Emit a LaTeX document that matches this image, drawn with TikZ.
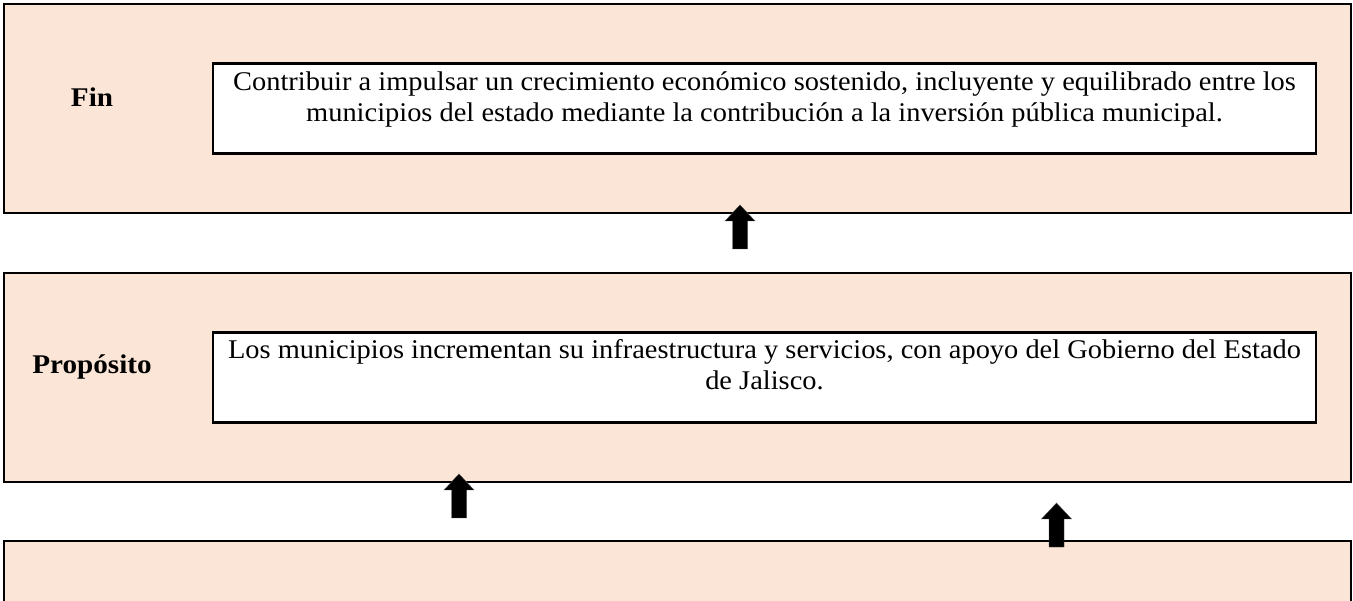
\documentclass[tikz,border=0pt]{standalone}
\usepackage{fontspec}
\setmainfont{Liberation Serif}
\definecolor{peach}{HTML}{FBE5D6}
\tikzset{
  panelbox/.style={draw=black, line width=2.6pt, fill=peach, rectangle, inner sep=0pt},
  innerbox/.style={draw=black, line width=2.6pt, fill=white, rectangle, inner sep=0pt, minimum width=1103pt, minimum height=90pt},
  boxtext/.style={inner sep=0pt, align=center, font=\fontsize{27}{31}\selectfont\addfontfeature{FakeStretch=1.053}},
  labeltext/.style={inner sep=0pt, anchor=base, font=\fontsize{27}{31}\selectfont\bfseries\addfontfeature{FakeStretch=1.08}},
  blockarrow/.style={fill=black, draw=black!70, line width=0.4pt}
}
\begin{document}
\begin{tikzpicture}[x=1pt,y=-1pt]
\useasboundingbox (0,0) rectangle (1353,601);
\clip (0,0) rectangle (1353,601);
% panels
\node[panelbox, minimum width=1347pt, minimum height=209pt] (p1) at (677.5,108.5) {};
\node[panelbox, minimum width=1347pt, minimum height=209pt] (p2) at (677.5,377.5) {};
\node[panelbox, minimum width=1347pt, minimum height=120pt] (p3) at (677.5,601) {};
% labels
\node[labeltext] (lfin) at (92,107) {Fin};
\node[labeltext] (lprop) at (92,374) {Propósito};
% inner boxes
\node[innerbox] (b1) at (764.5,108.5) {};
\node[innerbox] (b2) at (764.5,377.5) {};
\node[boxtext] (t1) at (764.5,100.3) {\strut Contribuir a impulsar un crecimiento económico sostenido, incluyente y equilibrado entre los\\ municipios del estado mediante la contribución a la inversión pública municipal.\strut};
\node[boxtext] (t2) at (764.5,367.8) {\strut Los municipios incrementan su infraestructura y servicios, con apoyo del Gobierno del Estado\\ de Jalisco.\strut};
% block arrows (tip coordinates)
\coordinate (a1) at (740,205);
\coordinate (a2) at (459,474);
\coordinate (a3) at (1056.5,503);
\foreach \c in {a1,a2,a3}{
  \fill[blockarrow] (\c) -- ++(15,16) -- ++(-7.5,0) -- ++(0,28) -- ++(-15,0) -- ++(0,-28) -- ++(-7.5,0) -- cycle;
}
\end{tikzpicture}
\end{document}
